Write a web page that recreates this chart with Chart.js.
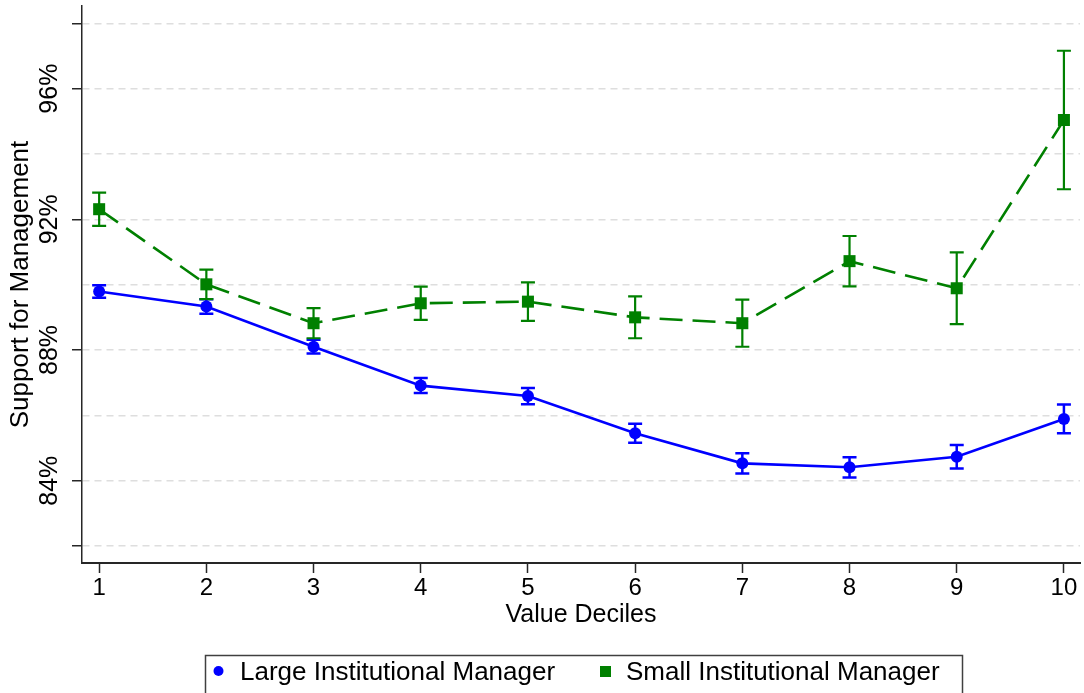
<!DOCTYPE html>
<html>
<head>
<meta charset="utf-8">
<script src="https://cdn.jsdelivr.net/npm/chart.js@4/dist/chart.umd.min.js"></script>
<style>
  html, body { margin: 0; padding: 0; background: #ffffff; }
  #wrap { width: 1084px; height: 693px; position: relative; }
</style>
</head>
<body>
<div id="wrap"><canvas id="chart" width="1084" height="693"></canvas></div>
<script>
// Support for management by value decile, with confidence intervals
const deciles = [1, 2, 3, 4, 5, 6, 7, 8, 9, 10];
const largeMean = [89.79, 89.33, 88.10, 86.91, 86.59, 85.45, 84.53, 84.41, 84.73, 85.89];
const largeErr  = [0.19, 0.22, 0.21, 0.23, 0.25, 0.29, 0.31, 0.31, 0.36, 0.44];
const smallMean = [92.31, 90.01, 88.82, 89.43, 89.48, 89.00, 88.82, 90.72, 89.89, 95.04];
const smallErr  = [0.51, 0.45, 0.46, 0.51, 0.59, 0.64, 0.72, 0.77, 1.10, 2.12];
const seriesNames = ['Large Institutional Manager', 'Small Institutional Manager'];
const yGridValues = [82, 84, 86, 88, 90, 92, 94, 96, 98];
const yTickMarks = [82, 84, 88, 92, 96, 98];
const yLabelValues = [84, 88, 92, 96];
const yLabels = ['84%', '88%', '92%', '96%'];

const FONT = "'Liberation Sans', Arial, Helvetica, sans-serif";
const BLUE = '#0000ff';
const GREEN = '#008000';
const AXIS = '#262626';

function points(means) {
  return deciles.map((d, i) => ({ x: d, y: means[i] }));
}

// vertical capped intervals around each point
const errorBars = {
  id: 'errorBars',
  beforeDatasetsDraw(chart) {
    const { ctx, scales: { x, y } } = chart;
    const sets = [
      { mean: largeMean, err: largeErr, color: BLUE, width: 2.5 },
      { mean: smallMean, err: smallErr, color: GREEN, width: 2.2 }
    ];
    ctx.save();
    sets.forEach(s => {
      ctx.strokeStyle = s.color;
      ctx.lineWidth = s.width;
      ctx.setLineDash([]);
      deciles.forEach((d, i) => {
        const px = x.getPixelForValue(d);
        const lo = y.getPixelForValue(s.mean[i] - s.err[i]);
        const hi = y.getPixelForValue(s.mean[i] + s.err[i]);
        const cap = 7;
        ctx.beginPath();
        ctx.moveTo(px, lo); ctx.lineTo(px, hi);
        ctx.moveTo(px - cap, lo); ctx.lineTo(px + cap, lo);
        ctx.moveTo(px - cap, hi); ctx.lineTo(px + cap, hi);
        ctx.stroke();
      });
    });
    ctx.restore();
  }
};

// rotated percentage labels on the vertical axis
const yRotatedLabels = {
  id: 'yRotatedLabels',
  afterDraw(chart) {
    const { ctx, scales: { y } } = chart;
    ctx.save();
    ctx.fillStyle = '#000';
    ctx.font = '25px ' + FONT;
    ctx.textAlign = 'center';
    ctx.textBaseline = 'alphabetic';
    yLabelValues.forEach((v, i) => {
      const py = y.getPixelForValue(v);
      ctx.save();
      ctx.translate(57, py);
      ctx.rotate(-Math.PI / 2);
      ctx.fillText(yLabels[i], 0, 0);
      ctx.restore();
    });
    ctx.restore();
  }
};

// boxed legend below the plot
const boxedLegend = {
  id: 'boxedLegend',
  afterDraw(chart) {
    const { ctx } = chart;
    ctx.save();
    ctx.strokeStyle = '#404040';
    ctx.lineWidth = 1.5;
    ctx.strokeRect(205.5, 655.5, 757, 60);
    ctx.fillStyle = BLUE;
    ctx.beginPath();
    ctx.arc(218.5, 671, 5, 0, Math.PI * 2);
    ctx.fill();
    ctx.fillStyle = GREEN;
    ctx.fillRect(600, 666, 11, 11);
    ctx.fillStyle = '#000';
    ctx.font = '26px ' + FONT;
    ctx.textAlign = 'left';
    ctx.textBaseline = 'alphabetic';
    ctx.fillText(seriesNames[0], 240, 680);
    ctx.fillText(seriesNames[1], 626, 680);
    ctx.restore();
  }
};

new Chart(document.getElementById('chart'), {
  type: 'line',
  data: {
    datasets: [
      {
        label: seriesNames[0],
        data: points(largeMean),
        borderColor: BLUE,
        backgroundColor: BLUE,
        borderWidth: 2.6,
        pointStyle: 'circle',
        pointRadius: 6,
        pointBorderWidth: 0,
        pointBackgroundColor: BLUE,
        tension: 0
      },
      {
        label: seriesNames[1],
        data: points(smallMean),
        borderColor: GREEN,
        backgroundColor: GREEN,
        borderWidth: 2.6,
        borderDash: [23, 10],
        pointStyle: 'rect',
        pointRadius: 8.5,
        pointBorderWidth: 0,
        pointBackgroundColor: GREEN,
        tension: 0
      }
    ]
  },
  options: {
    responsive: false,
    animation: false,
    events: [],
    layout: { autoPadding: false, padding: { top: 6, right: 4, bottom: 50, left: 0 } },
    plugins: {
      legend: { display: false },
      tooltip: { enabled: false }
    },
    scales: {
      x: {
        type: 'linear',
        min: 0.84,
        max: 10.15,
        afterBuildTicks: scale => { scale.ticks = deciles.map(v => ({ value: v })); },
        afterFit: scale => { scale.height = 80; },
        ticks: {
          color: '#000',
          font: { family: FONT, size: 24, lineHeight: 1.2 },
          padding: 1,
          maxRotation: 0,
          autoSkip: false,
          callback: v => String(v)
        },
        grid: {
          display: true,
          drawOnChartArea: false,
          drawTicks: true,
          tickLength: 10,
          tickColor: AXIS,
          tickWidth: 1.5,
          tickBorderDash: []
        },
        border: { display: true, color: AXIS, width: 2 },
        title: {
          display: true,
          text: 'Value Deciles',
          color: '#000',
          font: { family: FONT, size: 25, lineHeight: 1.0 },
          padding: { top: 0, bottom: 15 }
        }
      },
      y: {
        type: 'linear',
        min: 81.48,
        max: 98.53,
        afterBuildTicks: scale => { scale.ticks = yGridValues.map(v => ({ value: v })); },
        afterFit: scale => { scale.width = 82; },
        ticks: { display: false },
        grid: {
          display: true,
          drawOnChartArea: true,
          drawTicks: true,
          tickLength: 10,
          color: '#dedede',
          lineWidth: 1.5,
          tickColor: c => yTickMarks.includes(c.tick.value) ? AXIS : 'rgba(0,0,0,0)',
          tickWidth: 1.5,
          tickBorderDash: []
        },
        border: { display: true, color: AXIS, width: 1.5, dash: [7, 5] },
        title: {
          display: true,
          text: 'Support for Management',
          color: '#000',
          font: { family: FONT, size: 26, lineHeight: 1.2 },
          padding: { top: 5, bottom: 35.8 }
        }
      }
    }
  },
  plugins: [errorBars, yRotatedLabels, boxedLegend]
});
</script>
</body>
</html>
